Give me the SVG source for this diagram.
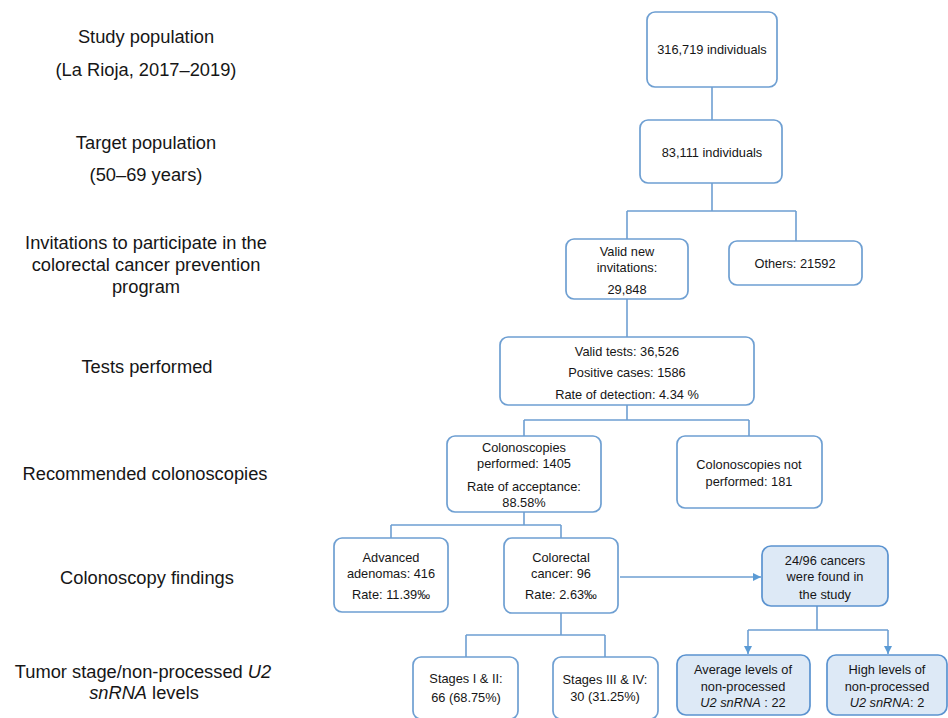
<svg xmlns="http://www.w3.org/2000/svg" width="948" height="718" viewBox="0 0 948 718">
<style>
text{font-family:"Liberation Sans",Arial,sans-serif;fill:#161616;text-anchor:middle}
.lbl{font-size:18.3px}
.t{font-size:12.8px}
.box{fill:#ffffff;stroke:#6e9fd2;stroke-width:1.7}
.hl{fill:#dde9f6;stroke:#5b93d0;stroke-width:1.7}
.c{fill:none;stroke:#6e9fd2;stroke-width:1.6}
.i{font-style:italic}
</style>
<defs>
<marker id="arr" viewBox="0 0 10 10" refX="10" refY="5" markerWidth="8" markerHeight="8" markerUnits="userSpaceOnUse" orient="auto">
<path d="M0,0 L10,5 L0,10 Z" fill="#5b9bd5"/>
</marker>
</defs>
<rect width="948" height="718" fill="#ffffff"/>

<g id="labels">
<text class="lbl" x="146" y="43">Study population</text>
<text class="lbl" x="146" y="76">(La Rioja, 2017–2019)</text>
<text class="lbl" x="146" y="149">Target population</text>
<text class="lbl" x="146" y="181">(50–69 years)</text>
<text class="lbl" x="146" y="249">Invitations to participate in the</text>
<text class="lbl" x="146" y="271">colorectal cancer prevention</text>
<text class="lbl" x="146" y="293">program</text>
<text class="lbl" x="147" y="373">Tests performed</text>
<text class="lbl" x="145" y="480">Recommended colonoscopies</text>
<text class="lbl" x="147" y="584">Colonoscopy findings</text>
<text class="lbl" x="143" y="678">Tumor stage/non-processed <tspan class="i">U2</tspan></text>
<text class="lbl" x="144" y="699"><tspan class="i">snRNA</tspan> levels</text>
</g>

<g id="connectors">
<path class="c" d="M712,87 V120"/>
<path class="c" d="M712,183 V211 M627,211 H796 M627,211 V239 M796,211 V241"/>
<path class="c" d="M627,299 V337"/>
<path class="c" d="M627,405 V420 M524,420 H749 M524,420 V436 M749,420 V436"/>
<path class="c" d="M524,512 V525 M391,525 H561 M391,525 V538 M561,525 V538"/>
<path class="c" d="M561,613 V635 M466,635 H605 M466,635 V657 M605,635 V657"/>
<path class="c" d="M620,577 H761" stroke="#5b9bd5" marker-end="url(#arr)"/>
<path class="c" d="M817,606 V630 M748,630 H888" stroke="#5b9bd5"/>
<path class="c" d="M748,630 V654" stroke="#5b9bd5" marker-end="url(#arr)"/>
<path class="c" d="M888,630 V654" stroke="#5b9bd5" marker-end="url(#arr)"/>
</g>

<g id="n1">
<rect class="box" x="647" y="12" width="130" height="75" rx="8"/>
<text class="t" x="712" y="54">316,719 individuals</text>
</g>
<g id="n2">
<rect class="box" x="640" y="120" width="142" height="63" rx="8"/>
<text class="t" x="712" y="157">83,111 individuals</text>
</g>
<g id="n3">
<rect class="box" x="566" y="239" width="122" height="60" rx="8"/>
<text class="t" x="627" y="256">Valid new</text>
<text class="t" x="627" y="272">invitations:</text>
<text class="t" x="627" y="294">29,848</text>
</g>
<g id="n4">
<rect class="box" x="729" y="241" width="133" height="44" rx="8"/>
<text class="t" x="795" y="268">Others: 21592</text>
</g>
<g id="n5">
<rect class="box" x="500" y="337" width="254" height="68" rx="8"/>
<text class="t" x="627" y="356">Valid tests: 36,526</text>
<text class="t" x="627" y="377">Positive cases: 1586</text>
<text class="t" x="627" y="399">Rate of detection: 4.34 %</text>
</g>
<g id="n6">
<rect class="box" x="447" y="436" width="154" height="76" rx="8"/>
<text class="t" x="524" y="452">Colonoscopies</text>
<text class="t" x="524" y="468">performed: 1405</text>
<text class="t" x="524" y="491">Rate of acceptance:</text>
<text class="t" x="524" y="507">88.58%</text>
</g>
<g id="n7">
<rect class="box" x="677" y="436" width="145" height="72" rx="8"/>
<text class="t" x="749" y="469">Colonoscopies not</text>
<text class="t" x="749" y="486">performed: 181</text>
</g>
<g id="n8">
<rect class="box" x="334" y="538" width="114" height="74" rx="8"/>
<text class="t" x="391" y="562">Advanced</text>
<text class="t" x="391" y="578">adenomas: 416</text>
<text class="t" x="391" y="599">Rate: 11.39‰</text>
</g>
<g id="n9">
<rect class="box" x="504" y="538" width="114" height="75" rx="8"/>
<text class="t" x="561" y="562">Colorectal</text>
<text class="t" x="561" y="578">cancer: 96</text>
<text class="t" x="561" y="599">Rate: 2.63‰</text>
</g>
<g id="n10">
<rect class="hl" x="762" y="546" width="126" height="60" rx="9"/>
<text class="t" x="825" y="565">24/96 cancers</text>
<text class="t" x="825" y="581">were found in</text>
<text class="t" x="825" y="599">the study</text>
</g>
<g id="n11">
<rect class="box" x="413" y="657" width="105" height="62" rx="8"/>
<text class="t" x="466" y="683">Stages I &amp; II:</text>
<text class="t" x="466" y="702">66 (68.75%)</text>
</g>
<g id="n12">
<rect class="box" x="553" y="657" width="105" height="62" rx="8"/>
<text class="t" x="605" y="684">Stages III &amp; IV:</text>
<text class="t" x="605" y="701">30 (31.25%)</text>
</g>
<g id="n13">
<rect class="hl" x="677" y="655" width="133" height="60" rx="9"/>
<text class="t" x="743" y="674">Average levels of</text>
<text class="t" x="743" y="691">non-processed</text>
<text class="t" x="743" y="707"><tspan class="i">U2 snRNA</tspan> : 22</text>
</g>
<g id="n14">
<rect class="hl" x="827" y="655" width="120" height="60" rx="9"/>
<text class="t" x="887" y="674">High levels of</text>
<text class="t" x="887" y="691">non-processed</text>
<text class="t" x="887" y="707"><tspan class="i">U2 snRNA</tspan>: 2</text>
</g>
</svg>
